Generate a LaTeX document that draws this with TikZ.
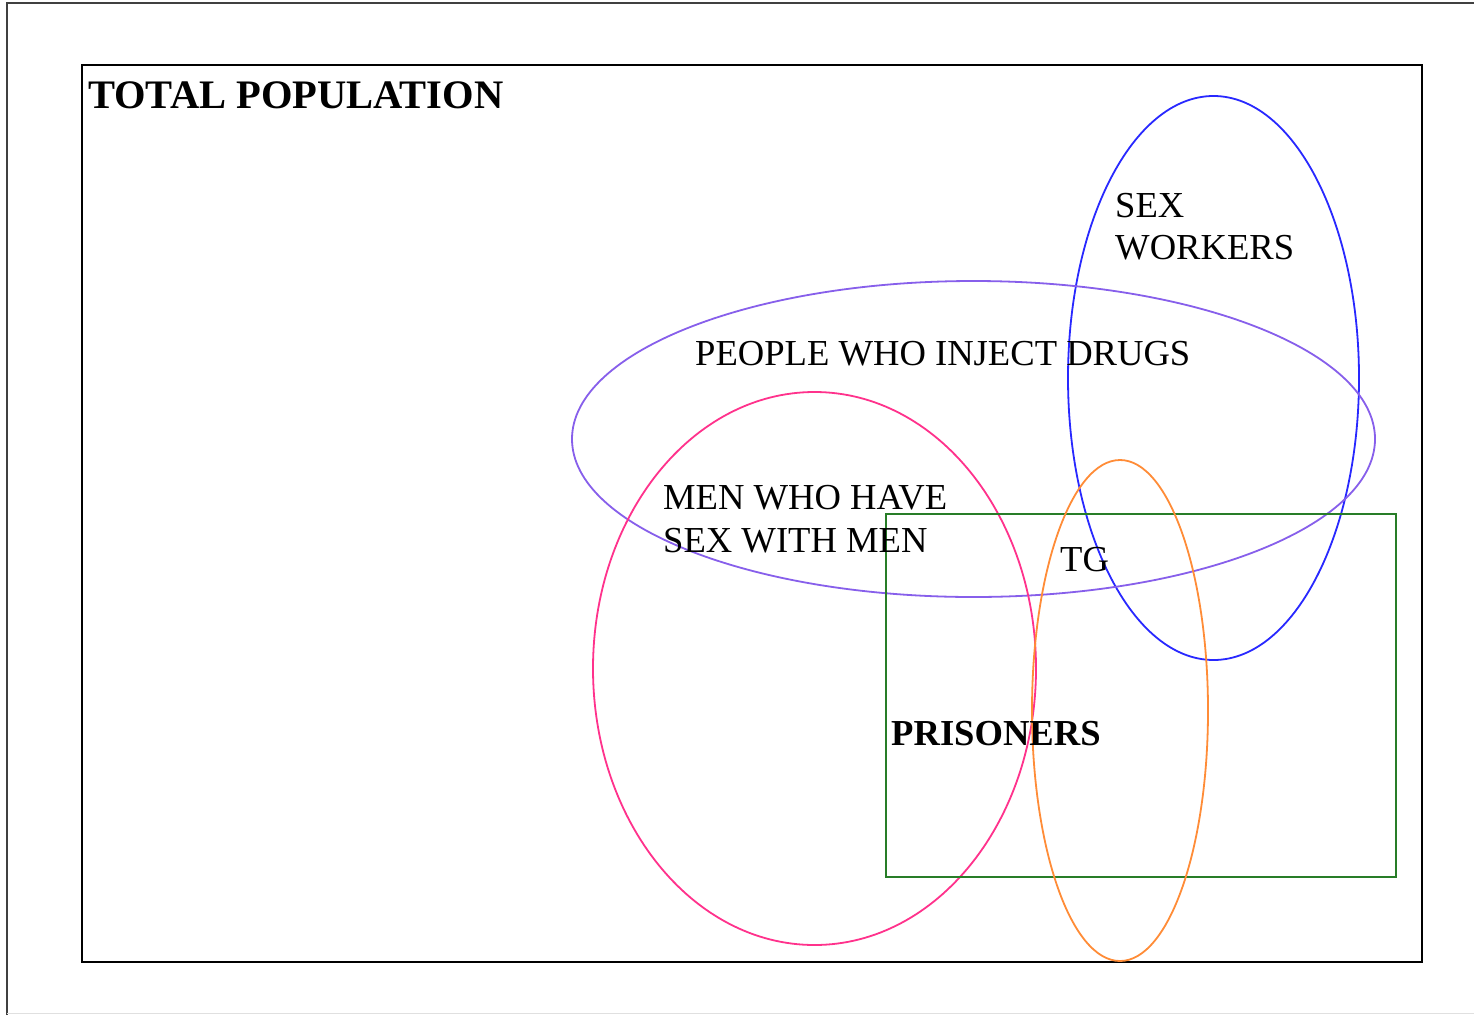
\documentclass[tikz,border=0pt]{standalone}
\usepackage{fontspec}
\setmainfont{Liberation Serif}
\usetikzlibrary{shapes.geometric}
\definecolor{swblue}{RGB}{40,40,255}
\definecolor{pwidpurple}{RGB}{135,95,235}
\definecolor{msmpink}{RGB}{255,50,140}
\definecolor{tgorange}{RGB}{255,140,55}
\definecolor{prgreen}{RGB}{40,125,40}
\begin{document}
\begin{tikzpicture}[x=1pt,y=-1pt,
  lbl/.style={anchor=base west,inner sep=0pt,font=\fontsize{36.6}{43}\selectfont},
  blbl/.style={lbl,font=\fontsize{36.6}{43}\selectfont\bfseries},
  set/.style={ellipse,draw,line width=1.8pt,inner sep=0pt}]
\useasboundingbox (0,0) rectangle (1474,1015);
\fill[white] (0,0) rectangle (1474,1015);
% outer frame
\draw[line width=2.5pt,black!75] (7,1015) -- (7,3) -- (1474,3);
\draw[line width=1pt,black!12] (7,1013) -- (1474,1013);
% total population
\node[draw,line width=1.8pt,minimum width=1340pt,minimum height=897pt,inner sep=0pt,anchor=north west] (total) at (81,64) {};
\node[blbl,font=\fontsize{40.5}{48}\selectfont\bfseries] (totlbl) at (88,108) {TOTAL POPULATION};
% sets
\node[set,draw=swblue,minimum width=291pt,minimum height=564pt] (sw) at (1213.5,378) {};
\node[set,draw=pwidpurple,minimum width=803pt,minimum height=316pt] (pwid) at (973.5,439) {};
\node[set,draw=msmpink,minimum width=443pt,minimum height=553pt] (msm) at (814.5,668.5) {};
\node[draw=prgreen,line width=1.8pt,minimum width=510pt,minimum height=363pt,inner sep=0pt,anchor=north west] (pris) at (885,513) {};
\node[set,draw=tgorange,minimum width=176pt,minimum height=501pt] (tg) at (1120,710.5) {};
% labels
\node[lbl] (swl1) at (1115,217) {SEX};
\node[lbl] (swl2) at (1115,259) {WORKERS};
\node[lbl] (pwidl) at (695,365) {PEOPLE WHO INJECT DRUGS};
\node[lbl] (msml1) at (663,509) {MEN WHO HAVE};
\node[lbl] (msml2) at (663,552) {SEX WITH MEN};
\node[lbl] (tgl) at (1060,571) {TG};
\node[blbl] (prl) at (891,745) {PRISONERS};
\end{tikzpicture}
\end{document}
